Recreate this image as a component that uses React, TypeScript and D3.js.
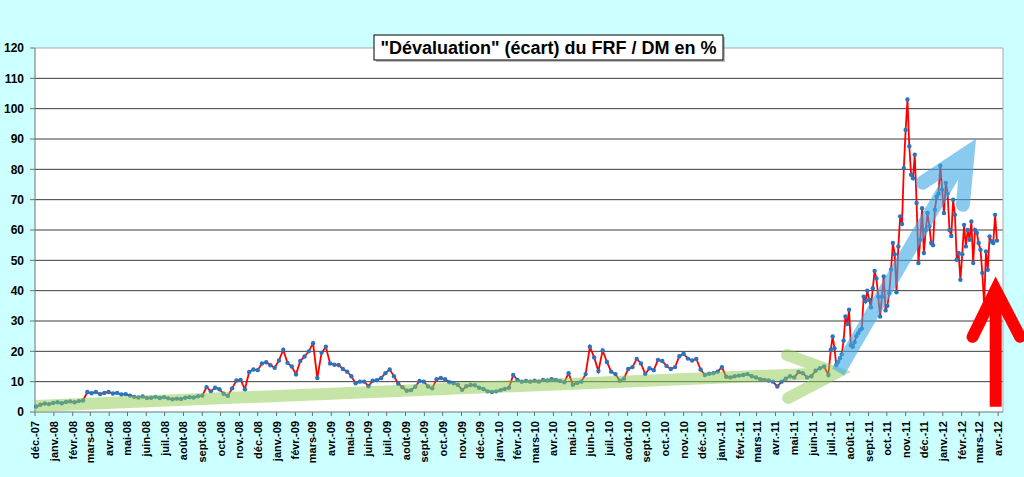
import * as d3 from 'd3';

// weekly readings, Dec 2007 -> end of June 2011
const weeklyStart = '2007-12-03';
const weeklyValues = [
  1.8, 2.4, 2.8, 2.6, 3.0, 3.2, 2.9, 3.3, 3.5, 3.2,
  3.6, 3.8, 6.6, 6.2, 6.6, 5.9, 6.3, 6.6, 6.1, 6.3,
  5.8, 5.9, 5.4, 5.0, 4.8, 5.1, 4.6, 4.7, 5.0, 4.6,
  4.9, 4.5, 4.2, 4.4, 4.3, 4.7, 4.9, 4.8, 5.2, 5.4,
  8.2, 6.8, 8.0, 7.5, 6.0, 5.3, 7.8, 10.4, 10.6, 7.5,
  13.2, 14.0, 13.8, 16.0, 16.4, 15.4, 14.6, 17.0, 20.5, 16.2,
  15.0, 12.4, 16.8, 18.3, 20.0, 22.7, 11.2, 19.5, 21.5, 16.0,
  15.6, 15.5, 14.2, 13.3, 11.8, 9.5, 10.0, 10.0, 8.5, 10.3,
  10.5, 11.2, 12.8, 14.0, 11.8, 9.3, 8.2, 7.0, 7.2, 8.3,
  10.2, 10.0, 8.4, 7.8, 10.8, 11.2, 10.8, 9.8, 9.5, 9.0,
  7.3, 8.5, 8.9, 8.8, 8.0, 7.6, 6.8, 6.6, 6.8, 7.2,
  7.6, 8.0, 12.2, 10.6, 10.0, 10.2, 10.0, 10.3, 10.0, 10.6,
  10.4, 10.8, 10.6, 10.2, 9.8, 12.8, 9.0, 9.6, 10.0, 12.5,
  21.5, 18.0, 13.5, 20.3, 16.5, 13.3, 12.5, 10.3, 11.0, 14.2,
  14.8, 17.5, 16.0, 12.5, 14.4, 13.8, 17.2, 16.8, 15.2, 14.2,
  14.8, 18.4, 19.2, 17.6, 17.0, 17.5, 14.0, 12.2, 12.6, 12.8,
  13.3, 14.8, 11.6, 11.4, 11.8, 12.0, 12.2, 12.5, 11.8, 11.4,
  10.8, 10.6, 10.4, 10.0, 8.4, 10.0, 11.0, 11.8, 11.4, 13.2,
  12.8, 11.4, 11.8, 13.6, 14.4, 15.0, 12.2,
];

// denser readings for the crisis period, every 3 days from July 2011
const recentStart = '2011-07-01';
const recentStepDays = 3;
const recentValues = [
  20.5, 24.9, 21.0, 15.5, 16.5, 17.7, 19.0, 23.5, 31.5, 29.0,
  33.7, 22.0, 21.5, 23.0, 25.0, 26.0, 27.0, 27.5, 38.0, 36.5,
  40.0, 37.0, 34.5, 40.8, 46.5, 44.0, 38.0, 31.5, 38.0, 44.7,
  33.5, 35.0, 39.2, 47.0, 55.7, 52.0, 39.5, 54.6, 64.5, 62.0,
  80.4, 93.0, 103.0, 87.6, 78.2, 77.1, 84.8, 68.9, 49.1, 56.8,
  67.2, 52.4, 60.0, 65.6, 61.2, 55.7, 55.0, 66.7, 71.0, 72.0,
  81.2, 73.3, 65.6, 75.5, 72.0, 60.0, 58.0, 70.0, 65.0, 50.2,
  52.4, 43.6, 52.0, 61.7, 54.6, 60.0, 56.8, 62.8, 49.1, 60.0,
  59.0, 55.7, 53.5, 45.8, 35.3, 52.9, 46.9, 57.9, 56.2, 55.7,
  65.0, 56.5,
];

const monthNames = ['janv.', 'févr.', 'mars', 'avr.', 'mai', 'juin', 'juil.', 'août', 'sept.', 'oct.', 'nov.', 'déc.'];
const yTicks = [0, 10, 20, 30, 40, 50, 60, 70, 80, 90, 100, 110, 120];
const title = '"Dévaluation" (écart) du FRF / DM en %';

// annotation arrows, in chart coordinates [date, value]
const greenShaft = [['2007-12-01', 2.0], ['2011-07-10', 12.9]];
const greenHead = [['2011-04-20', 18.8], ['2011-07-10', 12.9], ['2011-04-22', 4.6]];
const blueShaft = [['2011-07-13', 13.2], ['2012-01-29', 82.2]];
const blueHead = [['2011-11-29', 75.6], ['2012-02-11', 85.5], ['2012-02-03', 68.3]];
const redShaft = [['2012-03-28', 1.7], ['2012-03-28', 38.3]];
const redHead = [['2012-02-19', 24.8], ['2012-03-28', 40.3], ['2012-05-07', 24.8]];

const font = '"Liberation Sans", Arial, sans-serif';

export default function App() {
  const width = 1024;
  const height = 477;
  const margin = { top: 48, right: 21, bottom: 65, left: 35 };
  const parse = d3.utcParse('%Y-%m-%d');

  const x = d3.scaleUtc()
    .domain([parse('2007-12-01'), parse('2012-04-09')])
    .range([margin.left, width - margin.right]);
  const y = d3.scaleLinear()
    .domain([0, 120])
    .range([height - margin.bottom, margin.top]);

  const series = [
    ...weeklyValues.map((v, i) => ({ date: d3.utcDay.offset(parse(weeklyStart), 7 * i), v })),
    ...recentValues.map((v, i) => ({ date: d3.utcDay.offset(parse(recentStart), recentStepDays * i), v })),
  ];

  const line = d3.line().x(d => x(d.date)).y(d => y(d.v));
  const annot = d3.line().x(d => x(parse(d[0]))).y(d => y(d[1]));

  const months = x.ticks(d3.utcMonth.every(1));
  const x0 = margin.left;
  const x1 = width - margin.right;
  const y0 = height - margin.bottom;
  const y1 = margin.top;

  return (
    <svg width={width} height={height} style={{ position: 'absolute', left: 0, top: 0, display: 'block' }}>
      <rect x={0} y={0} width={width} height={height} fill="#CCFFFF" />
      <rect x={x0} y={y1} width={x1 - x0} height={y0 - y1} fill="#ffffff" />

      {yTicks.filter(t => t > 0 && t < 120).map(t => (
        <line key={t} x1={x0} x2={x1} y1={y(t)} y2={y(t)} stroke="#3c3c3c" strokeWidth={1} />
      ))}
      <line x1={x0} x2={x1} y1={y1} y2={y1} stroke="#a8a8a8" />
      <line x1={x1} x2={x1} y1={y1} y2={y0} stroke="#a8a8a8" />
      <line x1={x0} x2={x0} y1={y1} y2={y0} stroke="#707070" />
      <line x1={x0} x2={x1} y1={y0} y2={y0} stroke="#707070" />

      {yTicks.map(t => (
        <g key={t}>
          <line x1={x0 - 5} x2={x0} y1={y(t)} y2={y(t)} stroke="#707070" />
          <text x={24} y={y(t)} dy="0.35em" textAnchor="end" fontFamily={font} fontWeight="bold" fontSize={12} fill="#000">{t}</text>
        </g>
      ))}

      {months.map(m => (
        <g key={+m}>
          <line x1={x(m)} x2={x(m)} y1={y0} y2={y0 + 4} stroke="#707070" />
          <text transform={`translate(${x(m) + 4},${y0 + 9}) rotate(-90)`} textAnchor="end"
            fontFamily={font} fontWeight="bold" fontSize={11} fill="#000">
            {`${monthNames[m.getUTCMonth()]}-${String(m.getUTCFullYear()).slice(2)}`}
          </text>
        </g>
      ))}

      <path d={line(series)} fill="none" stroke="#ff0000" strokeWidth={1.8} />
      <g fill="#2874BE">
        {series.map((d, i) => (
          <circle key={i} cx={x(d.date)} cy={y(d.v)} r={2.2} />
        ))}
      </g>

      <g opacity={0.5} stroke="#8CCB50" strokeWidth={12} fill="none">
        <path d={annot(greenShaft)} strokeLinecap="butt" />
        <path d={annot(greenHead)} strokeLinecap="round" strokeLinejoin="miter" />
      </g>
      <g opacity={0.6} stroke="#3DA8E6" strokeWidth={14} fill="none">
        <path d={annot(blueShaft)} strokeLinecap="butt" />
        <path d={annot(blueHead)} strokeLinecap="round" strokeLinejoin="miter" />
      </g>
      <g stroke="#ff0000" strokeWidth={12} fill="none">
        <path d={annot(redShaft)} strokeLinecap="butt" />
        <path d={annot(redHead)} strokeLinecap="round" strokeLinejoin="miter" />
      </g>

      <rect x={376} y={37} width={349} height={25} fill="#888" opacity={0.55} />
      <rect x={374} y={35} width={349} height={25} fill="#fff" stroke="#000" strokeWidth={1} />
      <text x={548.5} y={53.5} textAnchor="middle" fontFamily={font} fontWeight="bold" fontSize={18} fill="#000">{title}</text>
    </svg>
  );
}
